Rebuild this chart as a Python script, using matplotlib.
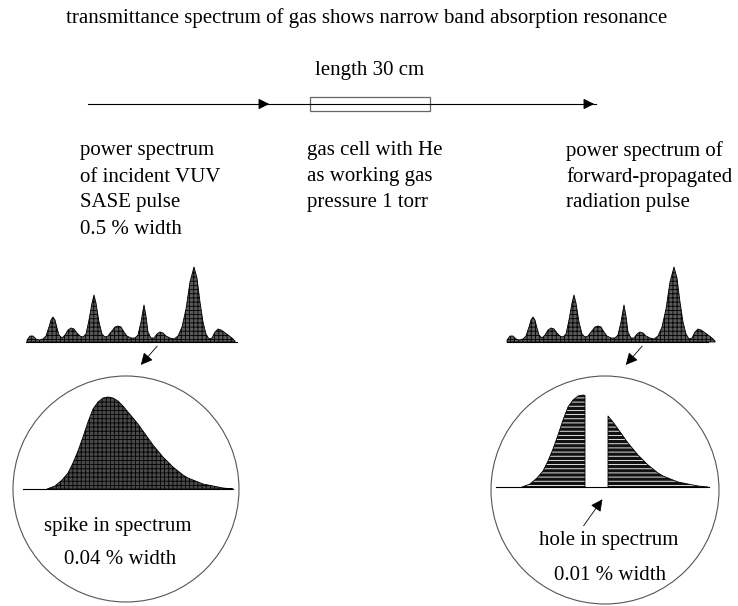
import matplotlib.pyplot as plt
import numpy as np
from matplotlib.patches import Circle, Rectangle

plt.rcParams['font.family'] = ['Liberation Serif', 'DejaVu Serif']
plt.rcParams['hatch.linewidth'] = 0.6

# SASE spectrum (pixel x, height above baseline)
sase_x = [27, 30, 33, 36, 39, 43, 46, 49, 51, 53, 55, 57, 59, 62, 65, 68, 71, 74, 77, 80,
          83, 86, 89, 92, 94, 96, 99, 102, 105, 108, 111, 115, 118, 121, 124, 127, 131, 135,
          138, 141, 144, 146, 148, 151, 154, 157, 160, 163, 166, 170, 174, 178, 182, 186,
          190, 194, 197, 200, 203, 206, 209, 212, 215, 218, 221, 224, 228, 232, 235]
sase_h = [2, 6, 6, 3, 2, 3, 6, 15, 22, 25, 22, 14, 7, 4, 7, 12, 14, 13, 9, 6,
          5, 8, 22, 39, 47, 39, 20, 8, 5, 6, 10, 15, 16, 15, 10, 6, 4, 4,
          7, 20, 37, 26, 10, 4, 4, 8, 10, 9, 6, 4, 3, 6, 15, 33,
          60, 75, 64, 40, 20, 8, 3, 4, 10, 13, 12, 10, 7, 4, 1]

# single spike (zoomed), pixel x and height
spike_x = [47, 55, 62, 68, 73, 78, 83, 88, 93, 98, 103, 108, 113, 118, 123, 128, 133, 138,
           143, 148, 153, 158, 163, 168, 173, 178, 183, 188, 193, 198, 203, 208, 213, 218,
           223, 228, 233]
spike_h = [0, 3, 9, 16, 26, 38, 52, 67, 80, 87, 91, 92, 91, 88, 83, 77, 71, 65,
           58, 51, 44, 38, 32, 27, 22, 18, 14, 11, 9, 7, 5, 4, 3, 2,
           1, 0.5, 0]
hole = (585, 608)

title = "transmittance spectrum of gas shows narrow band absorption resonance"
left_lines = ["power spectrum", "of incident VUV", "SASE pulse", "0.5 % width"]
mid_lines = ["gas cell with He", "as working gas", "pressure 1 torr"]
right_lines = ["power spectrum of", "forward-propagated", "radiation pulse"]

fig = plt.figure(figsize=(7.38, 6.06), dpi=100)
ax = fig.add_axes([0, 0, 1, 1])
ax.set_xlim(0, 738)
ax.set_ylim(606, 0)
ax.axis('off')

fs = 15
ax.text(367, 18, title, ha='center', va='center', fontsize=fs)
ax.text(370, 70, "length 30 cm", ha='center', va='center', fontsize=fs)

# beam line with cell
ly = 104
ax.plot([88, 596], [ly, ly], color='black', lw=0.8)
for tip in (272, 597):
    ax.annotate('', xy=(tip, ly), xytext=(tip - 14, ly),
                arrowprops=dict(arrowstyle='-|>', color='black', lw=0.8, mutation_scale=16))
ax.add_patch(Rectangle((310, 97), 120, 14, fill=False, edgecolor='#666', lw=0.9))

for i, s in enumerate(left_lines):
    ax.text(80, 151 + 26 * i, s, ha='left', va='center', fontsize=fs)
for i, s in enumerate(mid_lines):
    ax.text(307, 151 + 26 * i, s, ha='left', va='center', fontsize=fs)
for i, s in enumerate(right_lines):
    ax.text(566, 151 + 26 * i, s, ha='left', va='center', fontsize=fs)

# small SASE spectra
sx = np.array(sase_x, float)
sh = np.array(sase_h, float)
base = 342
for off, x0, x1 in ((0, 26, 237), (480, 507, 708)):
    ax.fill_between(sx + off, base, base - sh, facecolor='#5a5a5a', edgecolor='black',
                    hatch='++++', lw=0.6)
    ax.plot([x0, x1], [base, base], color='black', lw=0.8)

ax.annotate('', xy=(139, 367), xytext=(159, 344),
            arrowprops=dict(arrowstyle='-|>', color='black', lw=0.6, mutation_scale=18))
ax.annotate('', xy=(624, 367), xytext=(644, 344),
            arrowprops=dict(arrowstyle='-|>', color='black', lw=0.6, mutation_scale=18))

# zoom circles
ax.add_patch(Circle((126, 489), 113, fill=False, edgecolor='#555', lw=0.8))
ax.add_patch(Circle((605, 490), 114, fill=False, edgecolor='#555', lw=0.8))

kx = np.array(spike_x, float)
kh = np.array(spike_h, float)
b1 = 489
ax.fill_between(kx, b1, b1 - kh, facecolor='#4a4a4a', edgecolor='black', hatch='++++', lw=0.6)
ax.plot([23, 233], [b1, b1], color='black', lw=0.8)
ax.text(118, 527, "spike in spectrum", ha='center', va='center', fontsize=fs)
ax.text(120, 560, "0.04 % width", ha='center', va='center', fontsize=fs)

b2 = 487
rx = kx + 475
for mask in (rx <= hole[0], rx >= hole[1]):
    xs = rx[mask]
    hs = kh[mask]
    if mask[0]:
        xs = np.append(xs, hole[0])
        hs = np.append(hs, np.interp(hole[0], rx, kh))
    else:
        xs = np.insert(xs, 0, hole[1])
        hs = np.insert(hs, 0, np.interp(hole[1], rx, kh))
    ax.fill_between(xs, b2, b2 - hs, facecolor='#111', edgecolor='white', hatch='----', lw=0)
    ax.plot(np.r_[xs[0], xs, xs[-1]], np.r_[b2, b2 - hs, b2], color='black', lw=0.6)
ax.plot([496, 709], [b2, b2], color='black', lw=0.8)
ax.annotate('', xy=(604, 497), xytext=(582, 528),
            arrowprops=dict(arrowstyle='-|>', color='black', lw=0.6, mutation_scale=18))
ax.text(609, 541, "hole in spectrum", ha='center', va='center', fontsize=fs)
ax.text(610, 575, "0.01 % width", ha='center', va='center', fontsize=fs)

fig.savefig('out.png', dpi=100)
